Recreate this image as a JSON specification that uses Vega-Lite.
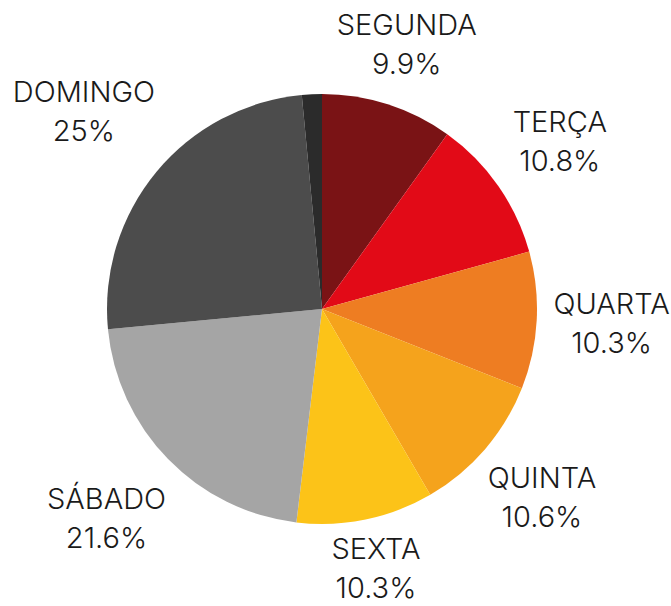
{
  "$schema": "https://vega.github.io/schema/vega-lite/v6.json",
  "width": 644,
  "height": 618,
  "autosize": "none",
  "padding": {"left": 0, "top": 0, "right": 27, "bottom": 0},
  "background": "white",
  "view": {"stroke": null},
  "config": {"text": {"fontSize": 29, "font": "Inter", "fontWeight": 300, "color": "#1a1a1a", "lineBreak": "\n", "lineHeight": 39, "baseline": "middle", "dy": -19.5}},
  "data": {
    "values": [
      {"dia": "SEGUNDA", "pct": 9.9, "rotulo": "9.9%", "ord": 1},
      {"dia": "TERÇA", "pct": 10.8, "rotulo": "10.8%", "ord": 2},
      {"dia": "QUARTA", "pct": 10.3, "rotulo": "10.3%", "ord": 3},
      {"dia": "QUINTA", "pct": 10.6, "rotulo": "10.6%", "ord": 4},
      {"dia": "SEXTA", "pct": 10.3, "rotulo": "10.3%", "ord": 5},
      {"dia": "SÁBADO", "pct": 21.6, "rotulo": "21.6%", "ord": 6},
      {"dia": "DOMINGO", "pct": 25, "rotulo": "25%", "ord": 7},
      {"dia": "", "pct": 1.5, "rotulo": "", "ord": 8}
    ]
  },
  "transform": [
    {"stack": "pct", "groupby": [], "sort": [{"field": "ord", "order": "ascending"}], "as": ["t0", "t1"]},
    {"calculate": "(datum.t0 + datum.t1) / 2", "as": "meio"},
    {"calculate": "datum.dia + '\\n' + datum.rotulo", "as": "rotulo2"}
  ],
  "layer": [
    {
      "mark": {"type": "arc", "outerRadius": 215, "stroke": null},
      "encoding": {
        "theta": {"field": "t0", "type": "quantitative", "scale": {"domain": [0, 100]}},
        "theta2": {"field": "t1"},
        "color": {
          "field": "ord",
          "type": "nominal",
          "scale": {
            "domain": [1, 2, 3, 4, 5, 6, 7, 8],
            "range": ["#7a1315", "#e20a17", "#ee7d22", "#f5a31c", "#fcc318", "#a5a5a5", "#4c4c4c", "#2b2b2b"]
          },
          "legend": null
        }
      }
    },
    {
      "transform": [{"filter": "datum.ord == 1"}],
      "mark": {"type": "text", "radius": 277},
      "encoding": {"theta": {"field": "meio", "type": "quantitative"}, "text": {"field": "rotulo2"}}
    },
    {
      "transform": [{"filter": "datum.ord >= 2 && datum.ord <= 4"}],
      "mark": {"type": "text", "radius": 290},
      "encoding": {"theta": {"field": "meio", "type": "quantitative"}, "text": {"field": "rotulo2"}}
    },
    {
      "transform": [{"filter": "datum.ord == 5"}],
      "mark": {"type": "text", "radius": 266},
      "encoding": {"theta": {"field": "meio", "type": "quantitative"}, "text": {"field": "rotulo2"}}
    },
    {
      "transform": [{"filter": "datum.ord == 6"}],
      "mark": {"type": "text", "radius": 301},
      "encoding": {"theta": {"field": "meio", "type": "quantitative"}, "text": {"field": "rotulo2"}}
    },
    {
      "transform": [{"filter": "datum.ord == 7"}],
      "mark": {"type": "text", "radius": 309},
      "encoding": {"theta": {"field": "meio", "type": "quantitative"}, "text": {"field": "rotulo2"}}
    }
  ]
}
